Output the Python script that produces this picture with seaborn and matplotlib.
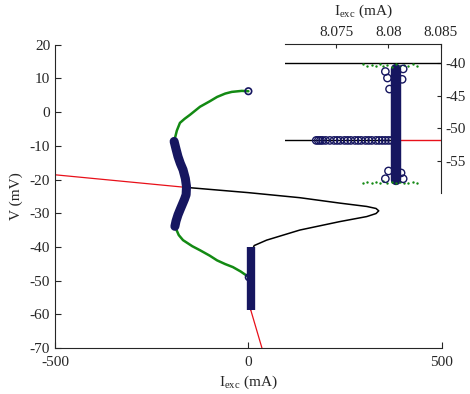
import numpy as np
import pandas as pd
import seaborn as sns
import matplotlib.pyplot as plt

# equilibrium branches (main panel)
red_up_i = [-500, -165]
red_up_v = [-18.6, -22.3]
blk_i = [-165, 0, 133, 236, 306, 330, 337, 330, 306, 236, 133, 47, 15, 6, 5, 6]
blk_v = [-22.3, -23.9, -25.4, -27.0, -28.0, -28.6, -29.3, -30.1, -31.0, -32.5, -35.0, -38.0, -39.6, -42.0, -50.0, -58.7]
red_lo_i = [6, 35]
red_lo_v = [-58.7, -70]

# stable limit cycle (max / min)
grn_up_i = [-192, -185, -177, -165, -151, -125, -100, -81, -60, -43, -17, 0]
grn_up_v = [-8.7, -5.5, -3.2, -2.0, -0.8, 1.6, 3.2, 4.5, 5.5, 6.0, 6.3, 6.2]
grn_lo_i = [-190, -180, -169, -145, -125, -100, -81, -60, -40, -20, -1]
grn_lo_v = [-33.9, -36.5, -38.0, -39.8, -41.0, -42.6, -44.0, -45.1, -46.0, -47.3, -48.8]

# unstable limit cycle
uns_i = [-192, -187, -182, -176, -169, -163, -160, -161, -165, -169, -176, -182, -187, -190]
uns_v = [-8.7, -11.0, -13.2, -15.2, -17.1, -19.7, -22.1, -24.5, -25.8, -26.9, -28.8, -30.5, -32.3, -33.9]
bar_i = [8, 8]
bar_v = [-40, -58.7]
end_i = [0, 1]
end_v = [6.2, -49.0]

# inset (zoom near I = 8.08)
ins_top_i = [8.070, 8.085]
ins_top_v = [-40.0, -40.0]
ins_blk_i = [8.070, 8.0805]
ins_red_i = [8.0805, 8.085]
ins_mid_v = -51.9
row_i = [8.0731, 8.0733, 8.0735, 8.0737, 8.0740, 8.0744, 8.0748, 8.0751, 8.0754,
         8.0758, 8.0761, 8.0764, 8.0768, 8.0771, 8.0774, 8.0778, 8.0781, 8.0784,
         8.0788, 8.0791, 8.0794, 8.0797, 8.0800, 8.0803]
col_i = [8.0807, 8.0807]
col_v = [-40.9, -58.0]
odd_i = [8.0797, 8.0814, 8.0799, 8.0813, 8.0801, 8.0797, 8.0814, 8.0800, 8.0812]
odd_v = [-41.3, -40.9, -42.3, -42.5, -44.0, -57.8, -57.8, -56.6, -56.9]
gdot_i = [8.0776, 8.0779, 8.0784, 8.0788, 8.0792, 8.0795, 8.0799, 8.0803,
          8.0807, 8.0811, 8.0815, 8.0819, 8.0823, 8.0827]
gdot_top_v = [-40.2, -40.4, -40.3, -40.5, -40.2, -40.4, -40.3, -40.6, -40.2, -40.4, -40.3, -40.5, -40.2, -40.4]
gdot_bot_v = [-58.4, -58.3, -58.5, -58.3, -58.4, -58.2, -58.5, -58.3, -58.4, -58.3, -58.5, -58.4, -58.3, -58.4]

NAVY = '#161660'
GREEN = '#138a13'
RED = '#e8101a'

sns.set_style('ticks')
plt.rcParams['font.family'] = ['Liberation Serif', 'DejaVu Serif']
plt.rcParams['mathtext.fontset'] = 'custom'
plt.rcParams['mathtext.rm'] = 'Liberation Serif'
plt.rcParams['mathtext.it'] = 'Liberation Serif:italic'
plt.rcParams['axes.unicode_minus'] = False

FS = 11

fig = plt.figure(figsize=(4.7, 3.94), dpi=100)
ax = fig.add_axes([0.117, 0.1168, 0.823, 0.7697])

def line(a, x, y, **kw):
    sns.lineplot(x=x, y=y, sort=False, estimator=None, ax=a, **kw)

line(ax, red_up_i, red_up_v, color=RED, linewidth=0.9)
line(ax, blk_i, blk_v, color='black', linewidth=1.1)
line(ax, red_lo_i, red_lo_v, color=RED, linewidth=0.9)
line(ax, grn_up_i, grn_up_v, color=GREEN, linewidth=1.8)
line(ax, grn_lo_i, grn_lo_v, color=GREEN, linewidth=1.8)
line(ax, uns_i, uns_v, color=NAVY, linewidth=6.5)
line(ax, bar_i, bar_v, color=NAVY, linewidth=6.0)
ax.lines[-1].set_solid_capstyle('butt')
ax.lines[-2].set_solid_capstyle('round')
sns.scatterplot(x=end_i, y=end_v, ax=ax, marker='o', s=22, facecolor='none',
                edgecolor=NAVY, linewidth=1.2, zorder=5)

ax.set_xlim(-500, 500)
ax.set_ylim(-70, 20)
ax.set_xticks([-500, 0, 500])
ax.set_yticks(np.arange(-70, 21, 10))
ax.tick_params(direction='in', labelsize=FS, length=4, width=0.8)
ax.tick_params(axis='x', pad=6)
sns.despine(ax=ax)
ax.set_xlabel(r'$\mathrm{I_{exc}}$ (mA)', fontsize=FS, labelpad=3)
ax.set_ylabel('V (mV)', fontsize=FS, labelpad=5)

# inset
ins = fig.add_axes([0.606, 0.510, 0.332, 0.3794])
ins.patch.set_alpha(0)
line(ins, ins_top_i, ins_top_v, color='black', linewidth=1.0)
line(ins, ins_blk_i, [ins_mid_v, ins_mid_v], color='black', linewidth=1.0)
line(ins, ins_red_i, [ins_mid_v, ins_mid_v], color=RED, linewidth=1.0)
line(ins, col_i, col_v, color=NAVY, linewidth=7.5)
sns.scatterplot(x=gdot_i + gdot_i, y=gdot_top_v + gdot_bot_v, ax=ins, marker='o',
                s=3, color=GREEN, linewidth=0, zorder=3)
sns.scatterplot(x=row_i, y=[ins_mid_v] * len(row_i), ax=ins, marker='o', s=28,
                facecolor='none', edgecolor=NAVY, linewidth=1.0, zorder=4)
sns.scatterplot(x=odd_i, y=odd_v, ax=ins, marker='o', s=28,
                facecolor='none', edgecolor=NAVY, linewidth=1.0, zorder=4)
ins.set_xlim(8.0701, 8.085)
ins.set_ylim(-60, -37)
ins.set_xticks([8.075, 8.08, 8.085])
ins.set_xticklabels(['8.075', '8.08', '8.085'])
ins.set_yticks([-40, -45, -50, -55])
ins.xaxis.tick_top()
ins.yaxis.tick_right()
ins.xaxis.set_label_position('top')
ins.spines['left'].set_visible(False)
ins.spines['bottom'].set_visible(False)
ins.tick_params(direction='in', labelsize=FS, length=3, width=0.8, pad=3)
ins.set_xlabel(r'$\mathrm{I_{exc}}$ (mA)', fontsize=FS, labelpad=8)
ins.set_ylabel('')

fig.savefig('out.png', dpi=100)
